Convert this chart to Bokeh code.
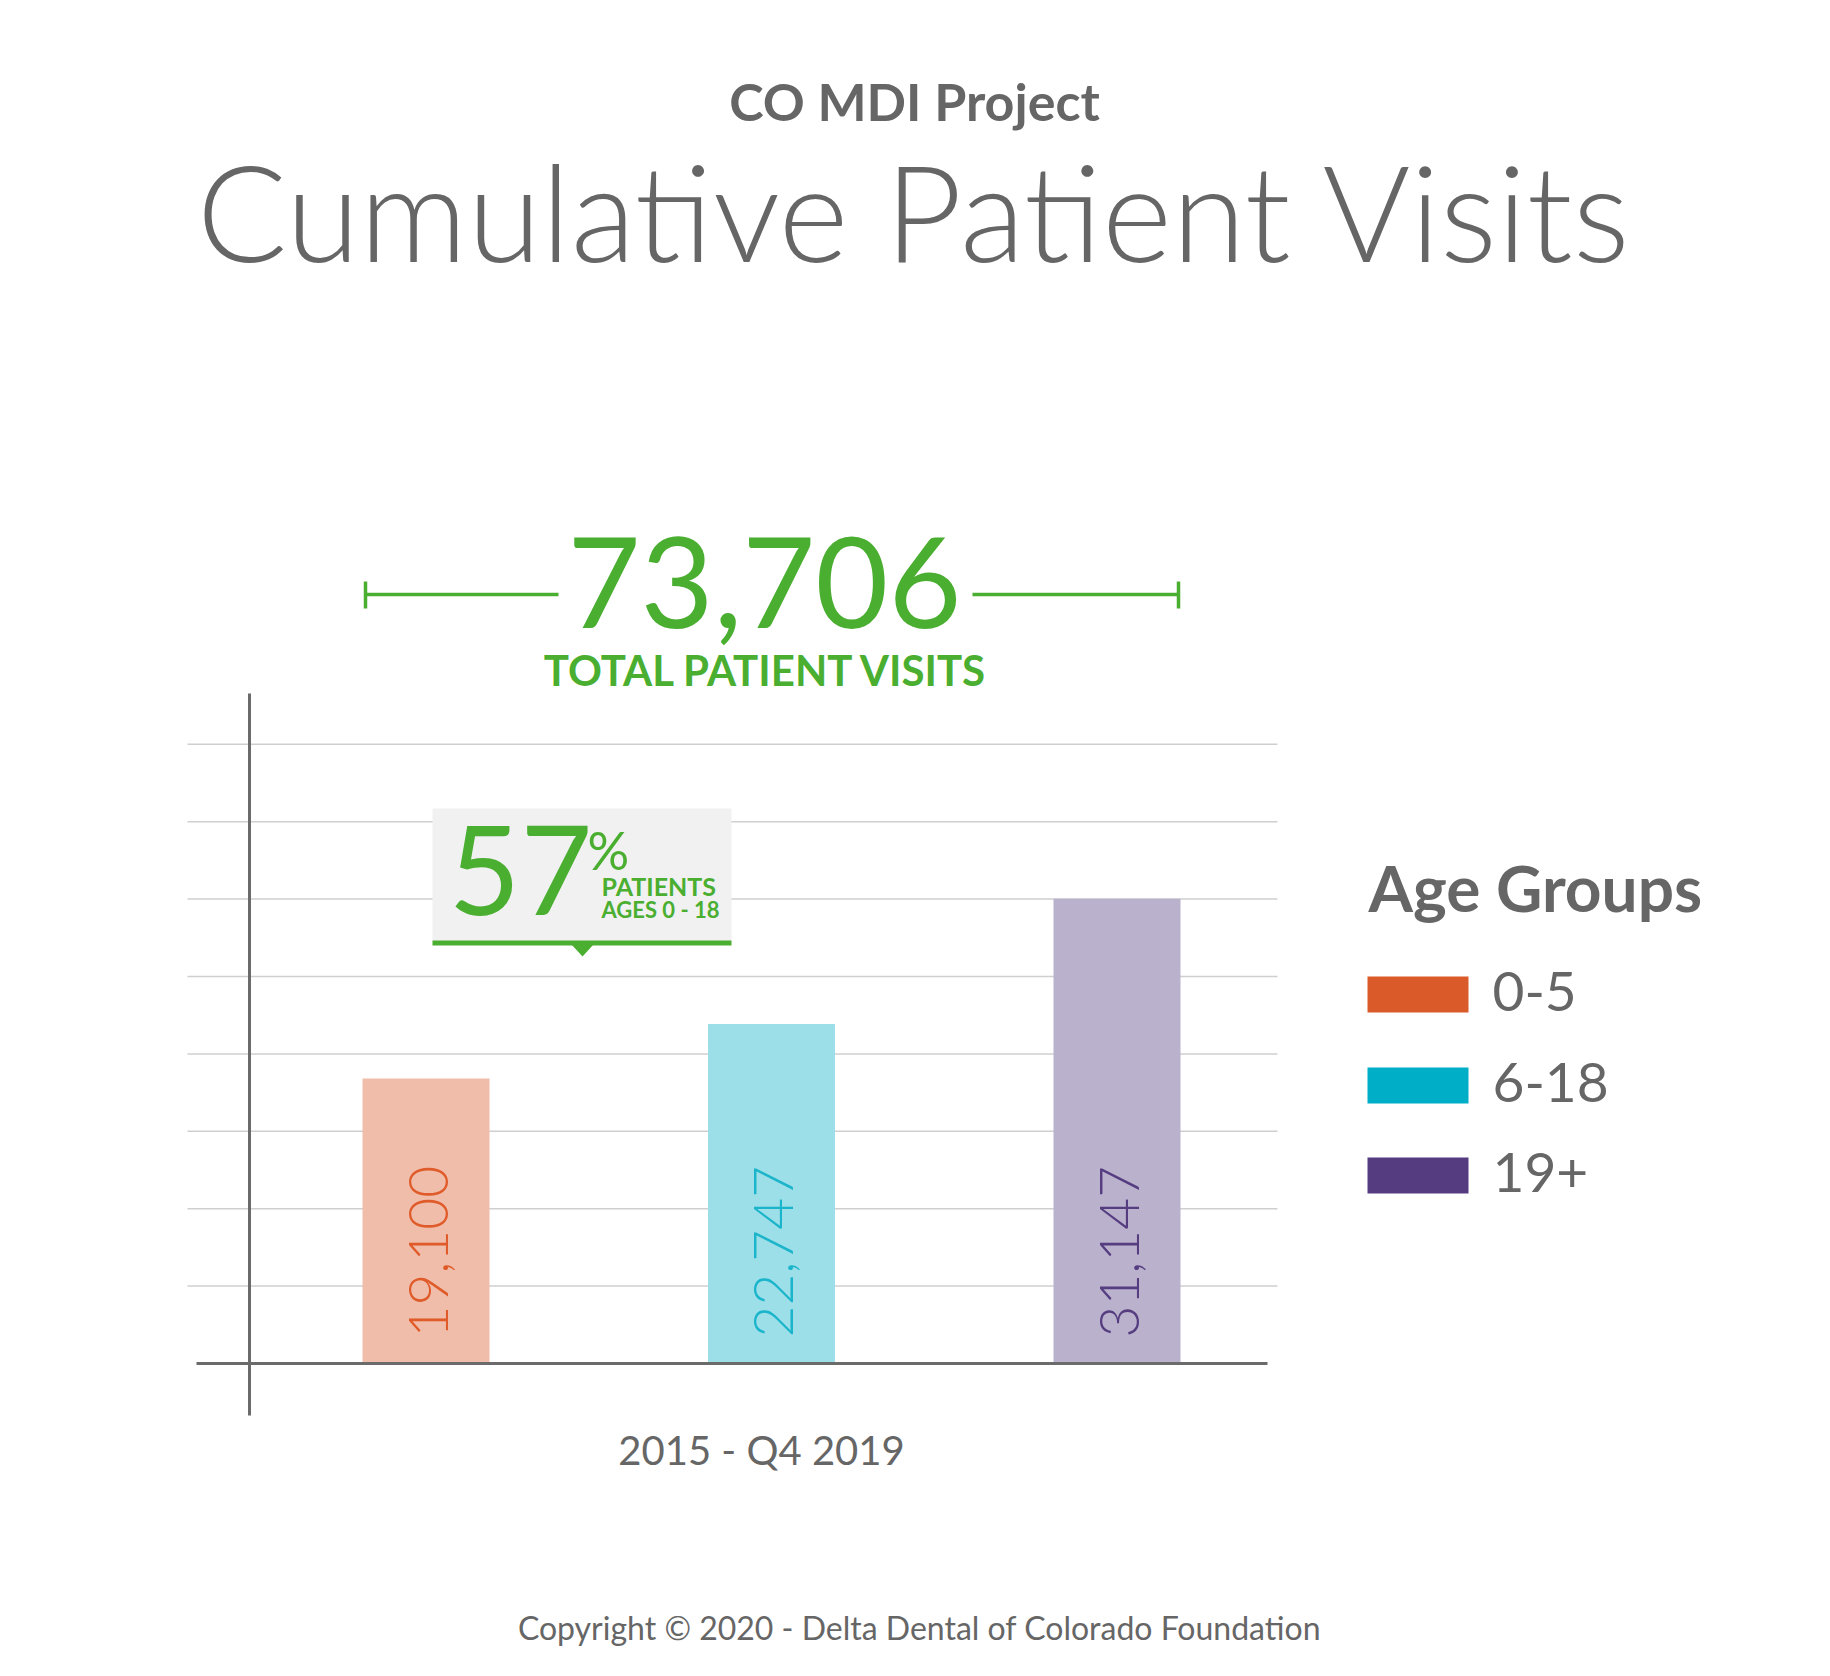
import math
from bokeh.plotting import figure
from bokeh.models import Range1d, Label
from bokeh.core.properties import value
from bokeh.embed import file_html
from bokeh.resources import INLINE

# ---------------- data ----------------
categories = ["0-5", "6-18", "19+"]
visits = [19100, 22747, 31147]
total_visits = 73706
share_0_18 = 57
period_label = "2015 - Q4 2019"
grid_values = [5000, 10000, 15000, 20000, 25000, 30000, 35000, 40000]
bar_fill = ["#f0bdaa", "#9ddfe8", "#bab1cc"]
label_color = ["#e05b2a", "#1ab4cb", "#553d80"]
legend_color = ["#da5a2a", "#00aec7", "#553b7f"]

# ---------------- style / layout ----------------
GRAY = "#666666"
GREEN = "#4aae30"
LIGHT = "'Lato Light', Lato"
REG = "Lato"
W, H = 1814, 1660
BASE_SHIFT = 0.4  # em correction for rendered baseline

p = figure(width=W, height=H, output_backend="svg", toolbar_location=None,
           x_range=Range1d(0, W), y_range=Range1d(H, 0),
           x_axis_location=None, y_axis_location=None, min_border=0,
           outline_line_color=None, background_fill_color="white",
           border_fill_color="white")
p.grid.visible = False

# value / category scales (page pixel anchors)
base_px = 1363.0
bar_px_per_unit = 0.014923          # bar value scale
grid_px_per_unit = 77.4 / 5000.0    # decorative grid spacing
bar0_px, step_px, bar_w_px = 425.5, 345.5, 127.0
p.extra_y_ranges = {
    "val": Range1d(-(H - base_px) / bar_px_per_unit, base_px / bar_px_per_unit),
    "grid": Range1d(-(H - base_px) / grid_px_per_unit, base_px / grid_px_per_unit),
}
p.extra_x_ranges = {"cat": Range1d(-bar0_px / step_px, (W - bar0_px) / step_px)}

idx = list(range(len(categories)))

# gridlines
p.segment(x0=[187] * len(grid_values), x1=[1277] * len(grid_values),
          y0=grid_values, y1=grid_values, y_range_name="grid",
          line_color="#cfcfcf", line_width=1.5)

# bars
p.vbar(x=idx, top=visits, bottom=0, width=bar_w_px / step_px,
       x_range_name="cat", y_range_name="val",
       fill_color=bar_fill, line_color=None)

# bar value labels
BAR_FS = 55
p.text(x=idx, y=[0] * len(idx), text=[f"{v:,}" for v in visits],
       x_range_name="cat", y_range_name="val", angle=math.pi / 2,
       text_align="left", text_baseline="alphabetic",
       x_offset=24 - BASE_SHIFT * BAR_FS, y_offset=-26,
       text_font=value(LIGHT), text_font_size=f"{BAR_FS}px", text_color=label_color)

# axis lines
p.segment(x0=[196], x1=[1267], y0=[0], y1=[0], y_range_name="val",
          line_color="#6b6b6b", line_width=3)
p.segment(x0=[249], x1=[249], y0=[693], y1=[1415], line_color="#6b6b6b", line_width=3)

def lab(x, y, text, size, color=GRAY, font=REG, style="normal", align="left"):
    p.add_layout(Label(x=x, y=y - BASE_SHIFT * size, text=text, text_font=font,
                       text_font_size=f"{size}px", text_color=color,
                       text_font_style=style, text_align=align,
                       text_baseline="alphabetic"))

# titles
lab(914, 121, "CO MDI Project", 52, style="bold", align="center")
lab(915, 264, "Cumulative Patient Visits", 134, font=LIGHT, align="center")

# total bracket
p.segment(x0=[365, 972, 365, 1178], x1=[558, 1178, 365, 1178],
          y0=[594, 594, 581, 581], y1=[594, 594, 608, 608],
          line_color=GREEN, line_width=3.5)
lab(764, 632, f"{total_visits:,}", 126, color=GREEN, font=REG, align="center")
lab(766, 686, "TOTAL PATIENT VISITS", 42, color=GREEN, style="bold", align="center")

# callout box
p.quad(left=[432], right=[731], top=[808], bottom=[941], fill_color="#f1f1f1", line_color=None)
p.quad(left=[432], right=[731], top=[940], bottom=[945], fill_color=GREEN, line_color=None)
p.patch(x=[571, 593, 582], y=[944, 944, 956], fill_color=GREEN, line_color=None)
lab(448, 919, f"{share_0_18}", 124, color=GREEN, font=REG)
lab(587, 870, "%", 52, color=GREEN, font=REG)
lab(601, 895, "PATIENTS", 25, color=GREEN, style="bold")
lab(601, 918, "AGES 0 - 18", 22, color=GREEN, style="bold")

# legend
lab(1368, 913, "Age Groups", 64, style="bold")
sw_top = [976, 1067, 1157]
for i, name in enumerate(categories):
    p.quad(left=[1367], right=[1468], top=[sw_top[i]], bottom=[sw_top[i] + 36],
           fill_color=legend_color[i], line_color=None)
    lab(1492, sw_top[i] + 37, name, 55)

# period + footer
lab(761, 1465, period_label, 40, align="center")
lab(919, 1640, "Copyright \u00a9 2020 - Delta Dental of Colorado Foundation", 32, align="center")

open("out.html", "w").write(file_html(p, INLINE))
